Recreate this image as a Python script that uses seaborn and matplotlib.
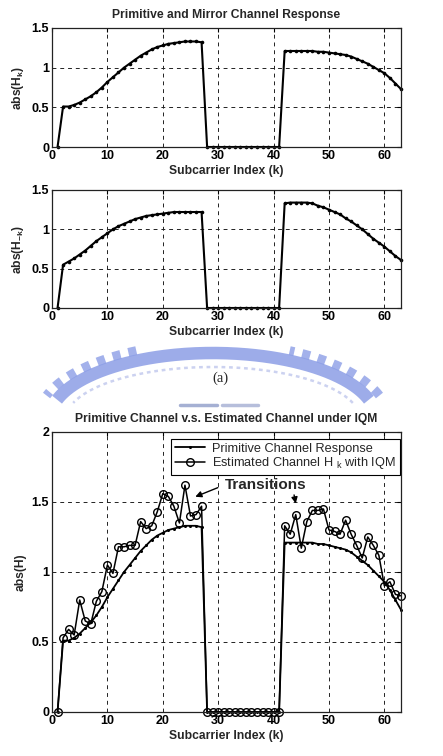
import numpy as np
import pandas as pd
import matplotlib
matplotlib.use("Agg")
import matplotlib.pyplot as plt
from matplotlib.lines import Line2D
import seaborn as sns

sns.set_style("white")
plt.rcParams['font.family'] = ['Liberation Sans', 'DejaVu Sans']
plt.rcParams['mathtext.fontset'] = 'custom'
plt.rcParams['mathtext.rm'] = 'Liberation Sans'
plt.rcParams['mathtext.bf'] = 'Liberation Sans:bold'
plt.rcParams['mathtext.default'] = 'regular'

# subcarrier index
k = list(range(1, 64))

# primitive channel |H_k|
h_prim = ([0.00, 0.51, 0.51, 0.53, 0.56, 0.60, 0.64, 0.69, 0.75, 0.82,
           0.88, 0.94, 1.00, 1.05, 1.10, 1.15, 1.19, 1.23, 1.26, 1.28,
           1.30, 1.31, 1.32, 1.33, 1.33, 1.33, 1.32]
          + [0.0] * 14
          + [1.21, 1.21, 1.21, 1.21, 1.21, 1.21, 1.20, 1.20, 1.19, 1.18,
             1.17, 1.16, 1.14, 1.11, 1.08, 1.05, 1.01, 0.97, 0.93, 0.87,
             0.80, 0.73])

# mirror channel |H_-k|
h_mirror = ([0.00, 0.55, 0.59, 0.63, 0.68, 0.73, 0.79, 0.85, 0.90, 0.95,
             1.00, 1.04, 1.07, 1.10, 1.13, 1.15, 1.17, 1.18, 1.19, 1.20,
             1.21, 1.22, 1.22, 1.22, 1.22, 1.22, 1.22]
            + [0.0] * 14
            + [1.33, 1.34, 1.34, 1.34, 1.34, 1.33, 1.30, 1.28, 1.25, 1.22,
               1.19, 1.14, 1.10, 1.05, 1.00, 0.94, 0.88, 0.83, 0.78, 0.72,
               0.66, 0.61])

# estimated channel with IQM
h_est = ([0.00, 0.53, 0.59, 0.55, 0.80, 0.65, 0.63, 0.79, 0.86, 1.05,
          0.99, 1.18, 1.18, 1.19, 1.19, 1.36, 1.31, 1.33, 1.43, 1.56,
          1.54, 1.47, 1.35, 1.62, 1.40, 1.41, 1.47]
         + [0.0] * 14
         + [1.33, 1.27, 1.41, 1.17, 1.36, 1.44, 1.44, 1.45, 1.30, 1.29,
            1.27, 1.37, 1.27, 1.19, 1.10, 1.25, 1.19, 1.12, 0.90, 0.93,
            0.84, 0.83])

df = pd.DataFrame({"k": k, "prim": h_prim, "mirror": h_mirror, "est": h_est})

W, H = 443, 756
fig = plt.figure(figsize=(W / 100, H / 100), dpi=100)

def px_axes(left, top, right, bottom):
    return fig.add_axes([left / W, 1 - bottom / H, (right - left) / W, (bottom - top) / H])

def style(ax, ymax, yticks, yticklabels, ylabel):
    ax.set_xlim(0, 63)
    ax.set_ylim(0, ymax)
    ax.set_xticks([0, 10, 20, 30, 40, 50, 60])
    ax.set_yticks(yticks)
    ax.set_xticklabels(["0", "10", "20", "30", "40", "50", "60"], fontweight="bold", fontsize=9)
    ax.set_yticklabels(yticklabels, fontweight="bold", fontsize=9)
    ax.tick_params(direction="in", length=3, width=0.8, top=True, right=True, pad=2, colors="k")
    ax.grid(True, color="#222222", linestyle=(0, (4, 4)), linewidth=0.7)
    for s in ax.spines.values():
        s.set_color("#222222")
        s.set_linewidth(0.9)
    ax.set_xlabel("Subcarrier Index (k)", fontweight="bold", fontsize=8.7, labelpad=2)
    ax.set_ylabel(ylabel, fontweight="bold", fontsize=8.7, labelpad=4)

# (1) primitive channel
ax1 = px_axes(52, 28, 401, 147)
sns.lineplot(data=df, x="k", y="prim", ax=ax1, color="k", linewidth=1.5,
             marker="o", markersize=2.6, markeredgewidth=0, errorbar=None, clip_on=False)
style(ax1, 1.5, [0, 0.5, 1, 1.5], ["0", "0.5", "1", "1.5"], r"abs(H$_\mathbf{k}$)")
ax1.set_title("Primitive and Mirror Channel Response", fontweight="bold", fontsize=8.7, pad=7)

# (2) mirror channel
ax2 = px_axes(52, 190, 401, 308)
sns.lineplot(data=df, x="k", y="mirror", ax=ax2, color="k", linewidth=1.5,
             marker="o", markersize=2.6, markeredgewidth=0, errorbar=None, clip_on=False)
style(ax2, 1.5, [0, 0.5, 1, 1.5], ["0", "0.5", "1", "1.5"], r"abs(H$_\mathbf{-k}$)")

# (3) primitive vs estimated
ax3 = px_axes(52, 432, 401, 712)
sns.lineplot(data=df, x="k", y="prim", ax=ax3, color="k", linewidth=1.3,
             marker="o", markersize=2.2, markeredgewidth=0, errorbar=None, clip_on=False)
sns.lineplot(data=df, x="k", y="est", ax=ax3, color="k", linewidth=1.1,
             marker="o", markersize=5.5, markerfacecolor="none",
             markeredgecolor="k", markeredgewidth=1.0, errorbar=None, clip_on=False)
style(ax3, 2, [0, 0.5, 1, 1.5, 2], ["0", "0.5", "1", "1.5", "2"], "abs(H)")
ax3.set_title("Primitive Channel v.s. Estimated Channel under IQM", fontweight="bold", fontsize=8.7, pad=7)

handles = [
    Line2D([], [], color="k", lw=1.3, marker="o", markersize=2.2, markeredgewidth=0),
    Line2D([], [], color="k", lw=1.1, marker="o", markersize=5.5,
           markerfacecolor="none", markeredgecolor="k", markeredgewidth=1.0),
]
leg = ax3.legend(handles, ["Primitive Channel Response", "Estimated Channel H $_k$ with IQM"],
                 loc="upper right", bbox_to_anchor=(1.0, 0.98), fontsize=9.2, frameon=True,
                 fancybox=False, edgecolor="k", framealpha=1, borderpad=0.3,
                 labelspacing=0.05, handlelength=2.3, handletextpad=0.6, borderaxespad=0.1)
leg.get_frame().set_linewidth(0.8)

ax3.text(38.6, 1.62, "Transitions", fontweight="bold", fontsize=11, ha="center", va="center")
ax3.annotate("", xy=(25.4, 1.53), xytext=(30.4, 1.61),
             arrowprops=dict(arrowstyle="-|>", color="k", lw=1.0, mutation_scale=9))
ax3.annotate("", xy=(44.1, 1.47), xytext=(43.6, 1.57),
             arrowprops=dict(arrowstyle="-|>", color="k", lw=1.0, mutation_scale=9))

# faint university watermark between the panels (decoration)
def wm_arc(a, b, t0, t1, **kw):
    t = np.radians(np.linspace(t0, t1, 200))
    xs = (213 + a * np.cos(t)) / W
    ys = 1 - (419 - b * np.sin(t)) / H
    fig.add_artist(Line2D(xs, ys, transform=fig.transFigure, zorder=0,
                          solid_capstyle="butt", **kw))

wm_arc(163, 66, 17, 163, color="#8c9ee6", lw=9, alpha=0.85)
wm_arc(175, 76, 18, 64, color="#8c9ee6", lw=6.5, alpha=0.8, linestyle=(0, (0.9, 0.9)))
wm_arc(175, 76, 116, 162, color="#8c9ee6", lw=6.5, alpha=0.8, linestyle=(0, (0.9, 0.9)))
wm_arc(147, 52, 18, 162, color="#aab4e6", lw=1.8, alpha=0.6, linestyle=(0, (1.5, 1.5)))
fig.add_artist(Line2D([180 / W, 217 / W], [1 - 405 / H] * 2, transform=fig.transFigure,
                      color="#8f9cc8", lw=2.5, alpha=0.8, zorder=0))
fig.add_artist(Line2D([222 / W, 258 / W], [1 - 405 / H] * 2, transform=fig.transFigure,
                      color="#a4aed2", lw=2.5, alpha=0.8, zorder=0))

fig.text(220 / W, 1 - 378 / H, "(a)", family=["Liberation Serif"], fontsize=10.5,
         ha="center", va="center")

fig.savefig("out.png", dpi=100)
